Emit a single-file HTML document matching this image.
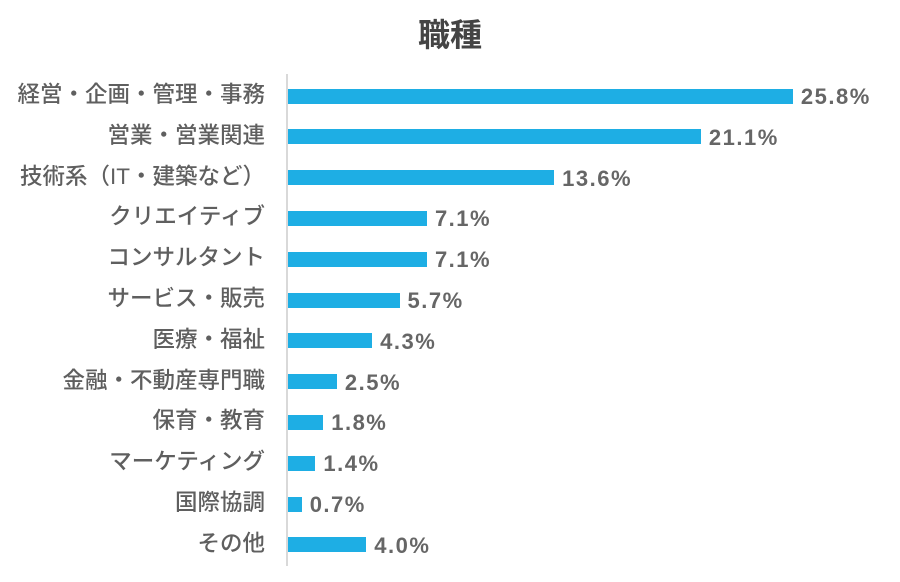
<!DOCTYPE html>
<html><head><meta charset="utf-8"><style>
body{margin:0;width:900px;height:582px;background:#fff;position:relative;overflow:hidden;font-family:"Liberation Sans","Noto Sans CJK JP",sans-serif;}
.t{position:absolute;left:0;width:900px;top:10px;text-align:center;font-size:32px;font-weight:bold;color:#444;}
.ax{position:absolute;left:286px;top:74px;width:2px;height:492px;background:#d9d9d9;}
.l{position:absolute;right:635px;font-size:22.5px;color:#5f5f5f;white-space:nowrap;line-height:22px;font-weight:500;}
.b{position:absolute;left:288px;height:15px;background:#1eaee4;}
.v{position:absolute;font-size:22px;font-weight:bold;color:#666;line-height:22px;letter-spacing:1.5px;}
</style></head><body>
<div class="t">職種</div>
<div class="ax"></div>
<div id="c"></div>
<script>
var d=[["経営・企画・管理・事務",25.8],["営業・営業関連",21.1],["技術系（IT・建築など）",13.6],["クリエイティブ",7.1],["コンサルタント",7.1],["サービス・販売",5.7],["医療・福祉",4.3],["金融・不動産専門職",2.5],["保育・教育",1.8],["マーケティング",1.4],["国際協調",0.7],["その他",4.0]];
var h="";
d.forEach(function(r,i){var cy=96+i*40.8;var w=r[1]*19.57;
h+='<div class="l" style="top:'+(cy-12)+'px">'+r[0]+'</div>';
h+='<div class="b" style="top:'+(cy-7.5)+'px;width:'+w+'px"></div>';
h+='<div class="v" style="top:'+(cy-10)+'px;left:'+(288+w+8)+'px">'+r[1].toFixed(1)+'%</div>';});
document.getElementById("c").innerHTML=h;
</script>
</body></html>
